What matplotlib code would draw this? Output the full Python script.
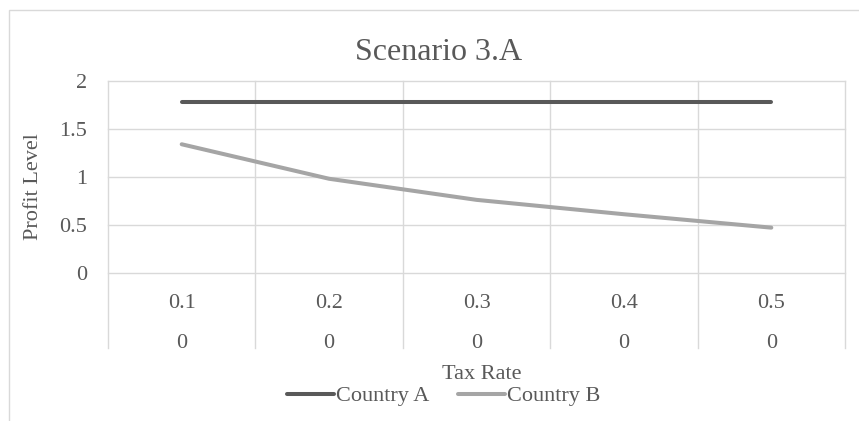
import matplotlib.pyplot as plt
from matplotlib.patches import Rectangle

plt.rcParams['font.family'] = ['Liberation Serif', 'DejaVu Serif']

# Data
tax_rate = ["0.1", "0.2", "0.3", "0.4", "0.5"]
sub_labels = ["0", "0", "0", "0", "0"]
country_a = [1.78, 1.78, 1.78, 1.78, 1.78]
country_b = [1.34, 0.98, 0.76, 0.61, 0.47]

txt = "#595959"
grid = "#D9D9D9"

fig = plt.figure(figsize=(8.59, 4.21), dpi=100)
ax = fig.add_axes([108 / 859, 1 - 272.7 / 421, (845 - 108) / 859, (272.7 - 81) / 421])

x = list(range(len(tax_rate)))
ax.plot(x, country_a, color="#595959", lw=2.9, solid_capstyle="round", label="Country A", zorder=3)
ax.plot(x, country_b, color="#A5A5A5", lw=2.9, solid_capstyle="round", label="Country B", zorder=3)

ax.set_xlim(-0.5, len(tax_rate) - 0.5)
ax.set_ylim(0, 2)
ax.set_yticks([0, 0.5, 1, 1.5, 2])
ax.set_yticklabels(["0", "0.5", "1", "1.5", "2"])
for s in ax.spines.values():
    s.set_visible(False)

# horizontal grid
for yv in [0, 0.5, 1, 1.5, 2]:
    ax.axhline(yv, color=grid, lw=1, zorder=1, clip_on=False)
# category dividers run down through the label rows
for b in [i - 0.5 for i in range(len(tax_rate) + 1)]:
    ax.plot([b, b], [-0.393, 1], color=grid, lw=1, transform=ax.get_xaxis_transform(),
            clip_on=False, zorder=1)

# two-level category labels
ax.set_xticks(x)
ax.set_xticklabels(tax_rate)
ax.tick_params(axis="x", length=0, pad=15, labelsize=16, labelcolor=txt)
ax.tick_params(axis="y", length=0, pad=15, labelsize=16, labelcolor=txt)
for i, s in enumerate(sub_labels):
    ax.text(i, -0.37, s, fontsize=16, color=txt, ha="center", va="center",
            transform=ax.get_xaxis_transform())

ax.set_ylabel("Profit Level", fontsize=16, color=txt)
ax.yaxis.set_label_coords((43 - 108) / (845 - 108), (272.7 - 187) / (272.7 - 81))
fig.text(482 / 859, 1 - 379 / 421, "Tax Rate", fontsize=16, color=txt, ha="center", va="baseline")
fig.text(439 / 859, 1 - 60 / 421, "Scenario 3.A", fontsize=23, color=txt, ha="center", va="baseline")

fig.legend(loc="center", bbox_to_anchor=(444 / 859, 1 - 396 / 421), ncol=2, frameon=False,
           fontsize=16, handlelength=2.1, handletextpad=0.1, columnspacing=1.3,
           labelcolor=txt)

# chart area border
fig.add_artist(Rectangle((9 / 859, -0.1), 1.2, 1 - 10 / 421 + 0.1, transform=fig.transFigure,
                         fill=False, edgecolor=grid, lw=1))

fig.savefig("out.png", dpi=100)
